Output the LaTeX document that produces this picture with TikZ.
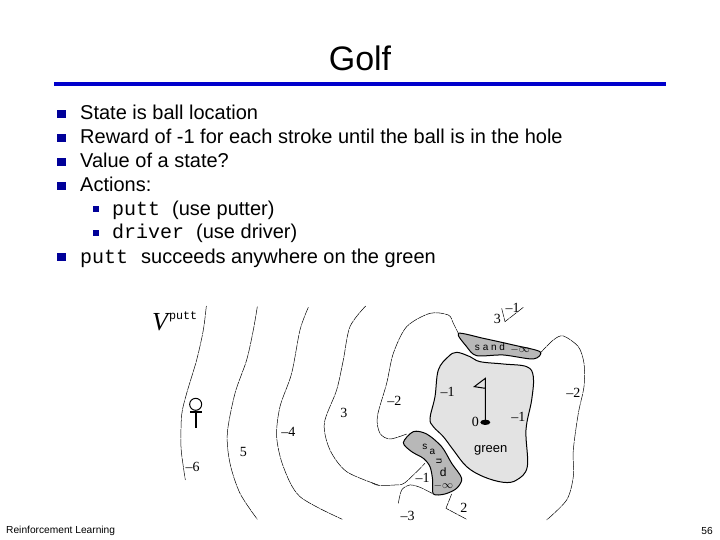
\documentclass[tikz,border=0pt]{standalone}
\usepackage{fontspec}
\setmainfont{Liberation Sans}
\setmonofont{Liberation Mono}
\newfontfamily\figfont{Liberation Serif}
\usetikzlibrary{positioning}
\definecolor{rulecol}{RGB}{0,0,204}
\definecolor{bulletcol}{RGB}{0,0,153}
\begin{document}
\begin{tikzpicture}[x=1pt,y=-1pt, every node/.style={inner sep=0pt}]
\tikzset{
  bigbullet/.style={fill=bulletcol, minimum size=8.5pt},
  smallbullet/.style={fill=bulletcol, minimum size=6pt},
  bodytext/.style={anchor=base west, font=\fontsize{20}{24}\selectfont},
  contourline/.style={line width=0.5pt, dash pattern=on 9pt off 0.7pt},
  bunker/.style={draw, line width=1pt, fill=black!28},
  greenarea/.style={draw, line width=1pt, fill=black!11},
  figlabel/.style={font=\fontsize{14}{16}\figfont},
  figsmall/.style={font=\fontsize{10}{12}\selectfont},
}
\useasboundingbox (0,0) rectangle (720,540);

% title
\node[font=\fontsize{34}{38}\selectfont] (title) at (360,58) {Golf};
\fill[rulecol] (54,82) rectangle (666,86);

% bullets
\node[bigbullet] (b1) at (61.5,114) {};
\node[bigbullet] (b2) at (61.5,138) {};
\node[bigbullet] (b3) at (61.5,162) {};
\node[bigbullet] (b4) at (61.5,186) {};
\node[smallbullet] (b5) at (95.5,209) {};
\node[smallbullet] (b6) at (95.5,233) {};
\node[bigbullet] (b7) at (61.5,257) {};

\node[bodytext] (t1) at (80,120) {State is ball location};
\node[bodytext] (t2) at (80,144) {Reward of -1 for each stroke until the ball is in the hole};
\node[bodytext] (t3) at (80,168) {Value of a state?};
\node[bodytext] (t4) at (80,192) {Actions:};
\node[bodytext] (t5) at (112,215) {\texttt{putt}\hspace{12pt}(use putter)};
\node[bodytext] (t6) at (112,239) {\texttt{driver}\hspace{12pt}(use driver)};
\node[bodytext] (t7) at (80,263) {\texttt{putt}\hspace{13pt}succeeds anywhere on the green};

% value function label
\node[anchor=base west] (vlabel) at (152,330) {\fontsize{26}{28}\figfont\itshape V\hspace{1pt}\raisebox{11pt}{\fontsize{11.7}{14}\ttfamily\upshape putt}};

% left contours
\begin{scope}[shift={(140,290)},x=0.3333pt,y=-0.3333pt]
\draw[contourline] plot[smooth] coordinates {(199,48) (190,120) (170,210) (140,310) (125,375) (123,470) (130,530) (136,570)};
\draw[contourline] plot[smooth] coordinates {(352,50) (340,120) (320,210) (285,310) (262,430) (270,520) (300,610) (352,688)};
\draw[contourline] plot[smooth] coordinates {(505,52) (480,120) (455,250) (420,350) (410,440) (430,530) (480,620) (607,688)};
\draw[contourline] plot[smooth] coordinates {(677,48) (630,110) (610,210) (590,300) (553,400) (570,480) (620,545) (715,585)};
% tee
\draw[line width=1pt] (167,343) circle[radius=18];
\draw[line width=2.5pt] (150,366) -- (185,366);
\draw[line width=1.8pt] (167,366) -- (167,415);
\node[figlabel] (m6) at (158,530) {–6};
\node[figlabel] (v5) at (310,485) {5};
\node[figlabel] (m4) at (445,427) {–4};
\node[figlabel] (v3) at (612,368) {3};
\end{scope}

% green and bunkers
\begin{scope}[shift={(370,290)},x=0.3333pt,y=-0.3333pt]
\draw[contourline] plot[smooth] coordinates {(110,432) (60,447) (30,430) (22,380) (50,280) (70,190) (110,110) (180,70) (235,75) (250,100) (265,130)};
\draw[contourline] plot[smooth] coordinates {(510,190) (550,150) (580,138) (625,170) (642,220) (642,290) (625,370) (610,480) (610,560) (590,630) (530,690)};
\draw[contourline] plot[smooth] coordinates {(5,578) (25,586) (75,585) (105,578) (165,520)};
\draw[contourline] plot[smooth] coordinates {(85,640) (95,600) (120,585) (150,592) (190,612)};
\draw[contourline] (245,612) -- (228,655) -- (290,688);
\draw[contourline] (395,55) -- (405,95) -- (460,52);
\draw[greenarea] plot[smooth cycle, tension=0.6] coordinates {(260,187) (300,200) (330,215) (400,222) (470,230) (490,260) (485,330) (468,420) (472,530) (440,570) (400,577) (340,560) (290,530) (250,480) (220,440) (190,410) (180,385) (195,320) (205,240) (235,200)};
\draw[bunker] plot[smooth cycle, tension=0.5] coordinates {(265,130) (340,145) (430,165) (510,185) (490,207) (400,195) (320,197) (290,170)};
\draw[bunker] plot[smooth cycle, tension=0.5] coordinates {(100,458) (130,425) (170,432) (215,470) (245,520) (275,565) (260,595) (225,612) (190,612) (188,570) (180,530) (160,505) (125,485)};
% flag
\draw[line width=1pt] (346,395) -- (346,265) -- (313,290) -- (346,295);
\fill (346,397) ellipse[x radius=15, y radius=8];
\node[figlabel] (g1) at (233,307) {–1};
\node[figlabel] (g2) at (445,382) {–1};
\node[figlabel] (c2) at (73,332) {–2};
\node[figlabel] (d2) at (610,310) {–2};
\node[figlabel] (hole) at (316,396) {0};
\node[font=\fontsize{13}{15}\selectfont] (greenname) at (362,480) {green};
\node[figlabel] (h1) at (158,565) {–1};
\node[figlabel] (m3) at (113,678) {–3};
\node[figlabel] (v2) at (282,655) {2};
\node[figlabel] (t3v) at (382,88) {3};
\node[figlabel] (t1v) at (428,55) {–1};
\node[font=\fontsize{11}{13}\selectfont] (topinf) at (450,178) {$-\infty$};
\node[font=\fontsize{11}{13}\selectfont] (botinf) at (220,587) {$-\infty$};
\node[figsmall] (topsand) at (360,170) {s a n d};
\node[figsmall] (sand1) at (165,472) {s};
\node[figsmall] (sand2) at (187,487) {a};
\node[figsmall,rotate=-90] (sand3) at (207,515) {n};
\node[font=\fontsize{12}{14}\selectfont] (sand4) at (220,546) {d};
\end{scope}

% footer
\node[anchor=west, font=\fontsize{10.2}{12}\selectfont] (foot) at (6,531) {Reinforcement Learning};
\node[anchor=east, font=\fontsize{10.2}{12}\selectfont] (page) at (713,531) {56};
\end{tikzpicture}
\end{document}
